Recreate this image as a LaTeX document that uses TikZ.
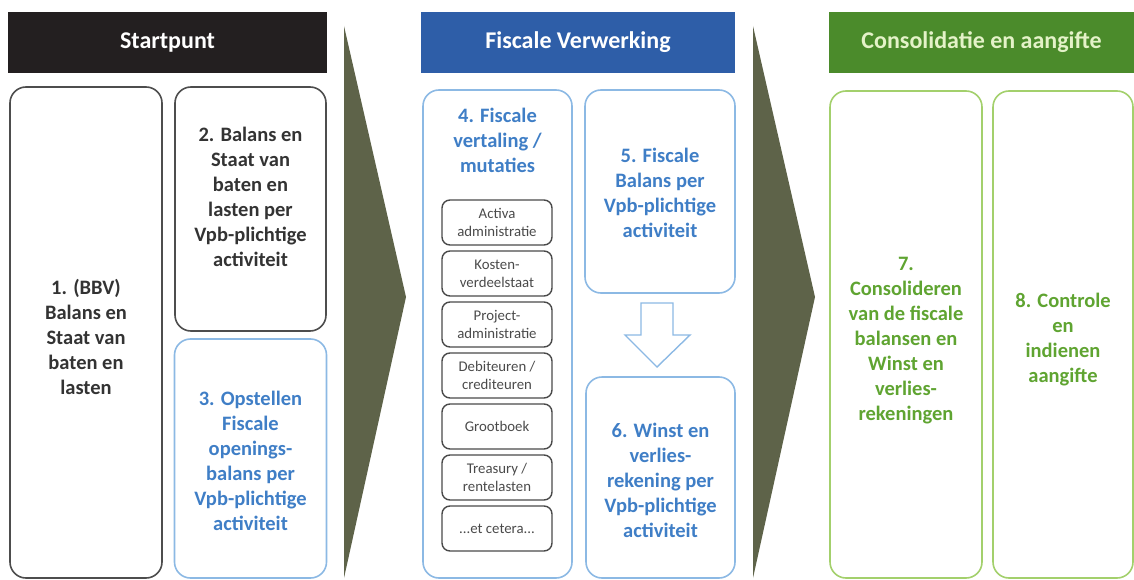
\documentclass[tikz,border=0pt]{standalone}
\usepackage{fontspec}
\setmainfont{Carlito}
\definecolor{headblack}{HTML}{231F20}
\definecolor{headblue}{HTML}{2E5EA8}
\definecolor{headgreen}{HTML}{4B8B2B}
\definecolor{headgreentext}{HTML}{E4F2C8}
\definecolor{darkbord}{HTML}{4D4D4D}
\definecolor{darktext}{HTML}{333333}
\definecolor{bluebord}{HTML}{8CB9E4}
\definecolor{bluetext}{HTML}{3F7EC6}
\definecolor{greenbord}{HTML}{A3D06C}
\definecolor{greentext}{HTML}{5FA431}
\definecolor{subgray}{HTML}{4A4A4A}
\definecolor{chevolive}{HTML}{5E6349}
\begin{document}
\begin{tikzpicture}[x=1pt,y=-1pt]
  \tikzstyle{head}=[minimum height=61pt, inner sep=0pt, font=\bfseries\fontsize{24}{28}\selectfont]
  \tikzstyle{box}=[draw, rounded corners=16pt, line width=1.6pt, inner sep=0pt]
  \tikzstyle{txt}=[align=center, inner sep=0pt, font=\bfseries\fontsize{20.5}{25}\selectfont]
  \tikzstyle{sub}=[draw=subgray, rounded corners=8pt, line width=1.4pt, minimum width=110pt,
    minimum height=45pt, align=center, inner sep=0pt, text=subgray, font=\fontsize{14.8}{18}\selectfont]
  \tikzstyle{chev}=[fill=chevolive]
  \useasboundingbox (0,0) rectangle (1134,580);

  \fill[chev] (344,26) -- (406,297) -- (344,578) -- cycle;
  \fill[chev] (753,26) -- (815,297) -- (753,578) -- cycle;

  \node[head, fill=headblack, text=white, minimum width=319pt] (start) at (167.5,42.5) {Startpunt};
  \node[head, fill=headblue, text=white, minimum width=314pt] (fisc) at (578,42.5) {Fiscale Verwerking};
  \node[head, fill=headgreen, text=headgreentext, minimum width=305pt] (cons) at (981.5,42.5) {Consolidatie en aangifte};

  \node[box, draw=darkbord, minimum width=152pt, minimum height=491pt] (bbv) at (86,332.5) {};
  \node[box, draw=darkbord, minimum width=151pt, minimum height=244pt] (balans) at (250.5,209) {};
  \node[box, draw=bluebord, minimum width=152pt, minimum height=239pt] (opening) at (250.5,458.5) {};
  \node[box, draw=bluebord, minimum width=149pt, minimum height=488pt] (vertaling) at (497.5,334) {};
  \node[box, draw=bluebord, minimum width=150pt, minimum height=203pt] (fbalans) at (660,191.5) {};
  \node[box, draw=bluebord, minimum width=149pt, minimum height=201pt] (winst) at (660.5,477.5) {};
  \node[box, draw=greenbord, minimum width=152pt, minimum height=487pt] (consol) at (906,334.5) {};
  \node[box, draw=greenbord, minimum width=140pt, minimum height=487pt] (controle) at (1063,334.5) {};

  \node[txt, text=darktext] (bbvtxt) at (86,337) {1. (BBV)\\Balans en\\Staat van\\baten en\\lasten};
  \node[txt, text=darktext] (balanstxt) at (250.5,197) {2. Balans en\\Staat van\\baten en\\lasten per\\Vpb-plichtige\\activiteit};
  \node[txt, text=bluetext] (openingtxt) at (250.5,460.5) {3. Opstellen\\Fiscale\\openings-\\balans per\\Vpb-plichtige\\activiteit};
  \node[txt, text=bluetext] (vertalingtxt) at (497.5,140) {4. Fiscale\\vertaling /\\mutaties};
  \node[txt, text=bluetext] (fbalanstxt) at (660,192.5) {5. Fiscale\\Balans per\\Vpb-plichtige\\activiteit};
  \node[txt, text=bluetext] (winsttxt) at (660.5,480) {6. Winst en\\verlies-\\rekening per\\Vpb-plichtige\\activiteit};
  \node[txt, text=greentext] (consoltxt) at (906,341) {7.\\Consolideren\\van de fiscale\\balansen en\\Winst en\\verlies-\\rekeningen};
  \node[txt, text=greentext] (controletxt) at (1063,340) {8. Controle\\en\\indienen\\aangifte};

  \foreach \i/\t in {0/{Activa\\administratie}, 1/{Kosten-\\verdeelstaat}, 2/{Project-\\administratie},
                     3/{Debiteuren /\\crediteuren}, 4/{Grootboek}, 5/{Treasury /\\rentelasten}, 6/{...et cetera...}}
    \node[sub] (sub\i) at (497,222.5+51*\i) {\t};

  \draw[bluebord, line width=1.4pt, line join=miter] (641,303) -- (673,303) -- (673,335) -- (690,335)
    -- (657,367) -- (625,335) -- (641,335) -- cycle;
\end{tikzpicture}
\end{document}
